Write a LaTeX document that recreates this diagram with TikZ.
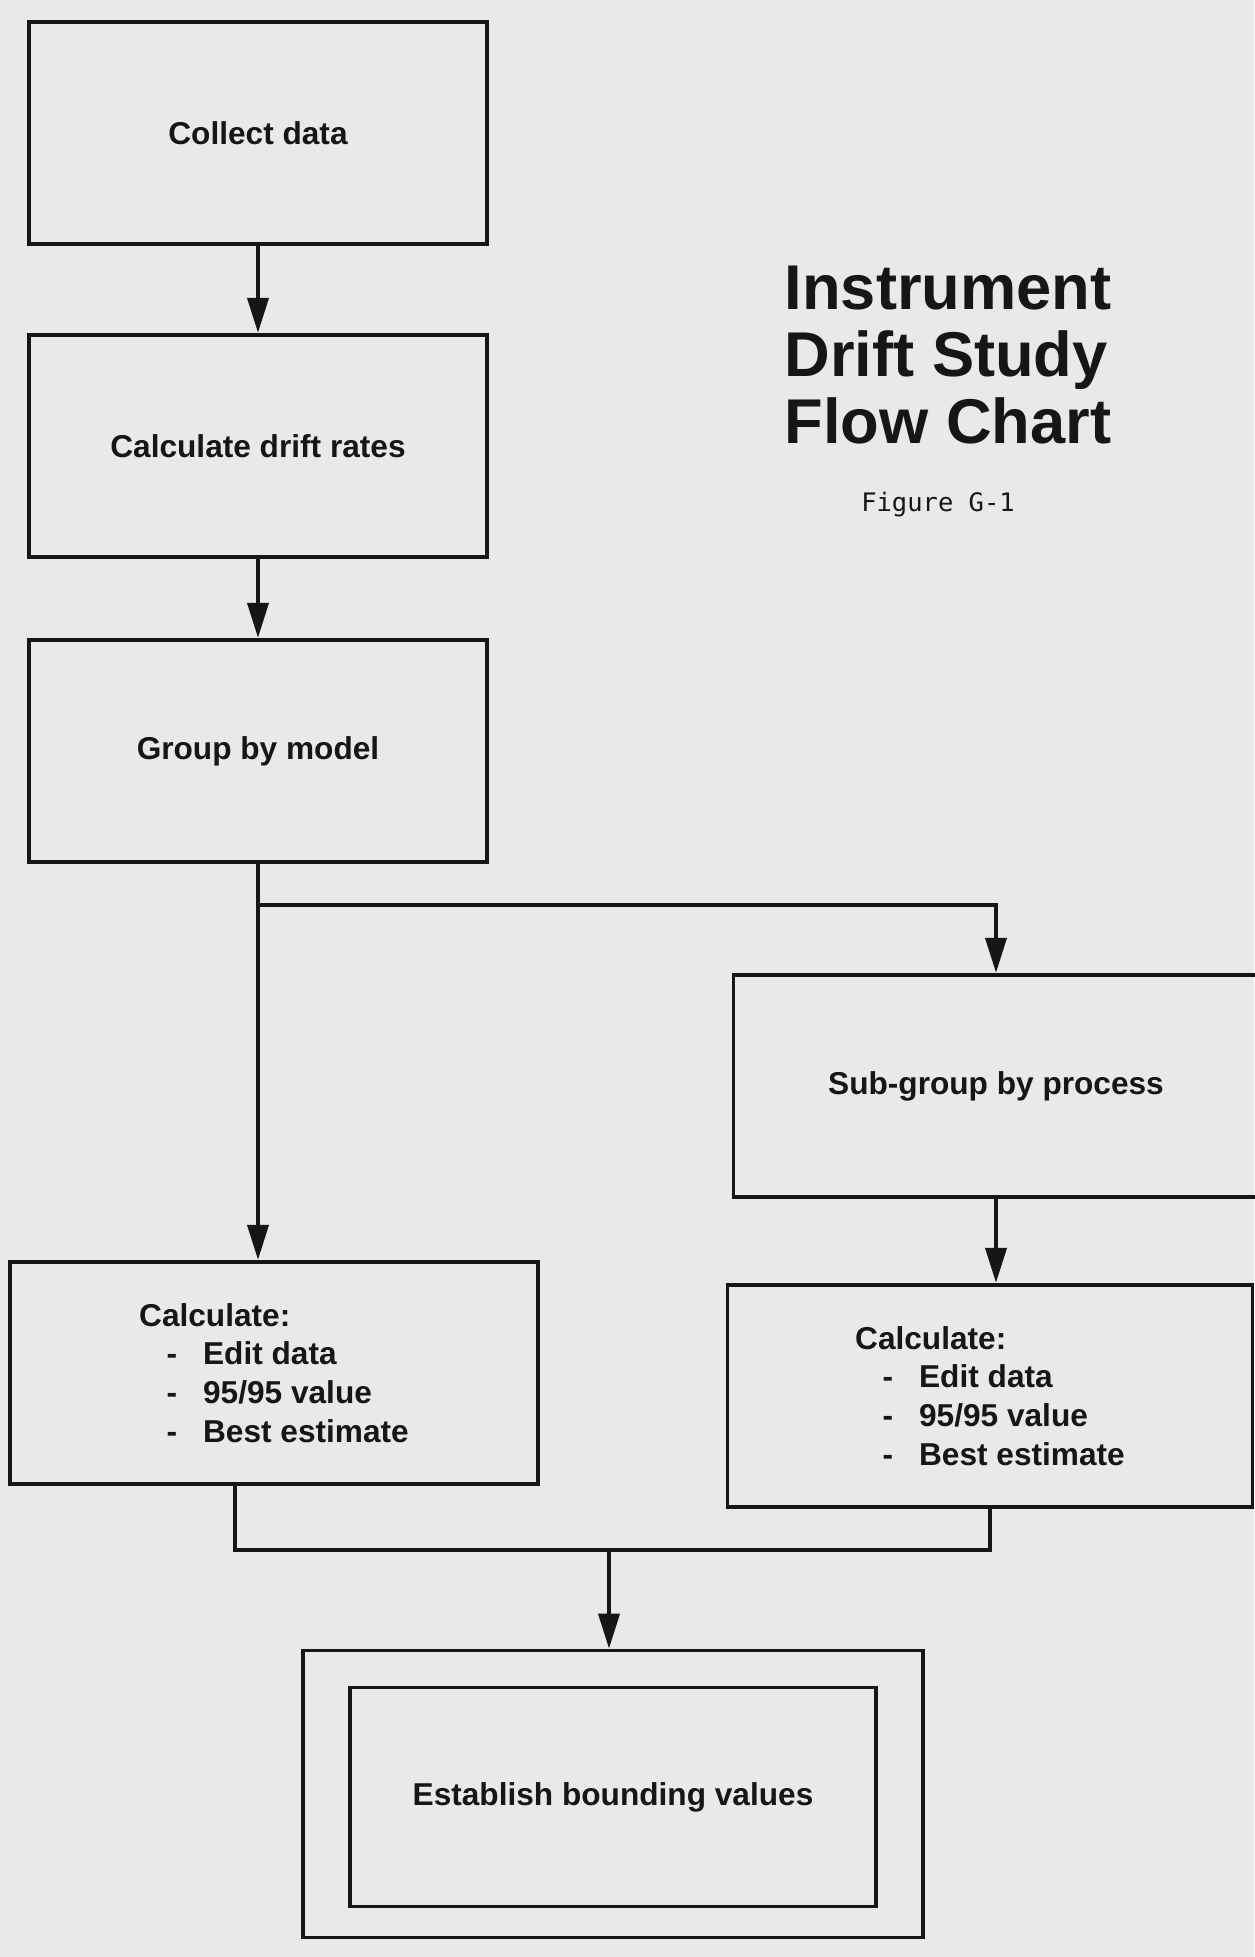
\documentclass[tikz,border=0pt]{standalone}
\usepackage{fontspec}
\setmainfont{Liberation Sans}
\newfontfamily\figfont{DejaVu Sans Mono}
\usetikzlibrary{arrows.meta,positioning,calc}

\definecolor{paper}{RGB}{233,233,231}
\definecolor{ink}{RGB}{22,22,22}

\newcommand{\calcitem}[1]{\makebox[1.28cm][l]{\hspace{0.55cm}-}#1}

\begin{document}
\begin{tikzpicture}[x=0.02cm,y=-0.02cm,
    box/.style={draw=ink,text=ink,line width=2.2pt,minimum height=4.45cm,
      font=\fontsize{18}{22}\selectfont\bfseries},
    arr/.style={draw=ink,line width=2.2pt,-{Triangle[length=0.7cm,width=0.42cm]}},
    link/.style={draw=ink,line width=2.2pt}]
  \fill[paper] (0,0) rectangle (1254,1957);
  \useasboundingbox (0,0) rectangle (1254,1957);

  % left column
  \node[box,minimum width=9.16cm] (collect) at (258,133) {Collect data};
  \node[box,minimum width=9.16cm] (drift) at (258,446) {Calculate drift rates};
  \node[box,minimum width=9.16cm] (group) at (258,751) {Group by model};
  \node[box,minimum width=10.56cm,align=left] (calcL) at (274,1373)
    {Calculate:\\ \calcitem{Edit data}\\ \calcitem{95/95 value}\\ \calcitem{Best estimate}};

  % right column
  \node[box,minimum width=10.5cm] (subgroup) at (996,1086) {Sub-group by process};
  \node[box,minimum width=10.5cm,align=left] (calcR) at (990,1396)
    {Calculate:\\ \calcitem{Edit data}\\ \calcitem{95/95 value}\\ \calcitem{Best estimate}};

  % final step
  \node[box,minimum width=12.4cm,minimum height=5.74cm] (outer) at (613,1794) {};
  \node[box,minimum width=10.52cm,minimum height=4.38cm] (bound) at (613,1797) {Establish bounding values};

  % title
  \node[text=ink,align=left,font=\fontsize{36}{38}\selectfont\bfseries] (title) at (948,355)
    {Instrument\\Drift Study\\Flow Chart};
  \node[text=ink,font=\figfont\fontsize{14.5}{17}\selectfont] (figlabel) at (938,505) {Figure G-1};

  % connectors
  \coordinate (split) at (258,905);
  \coordinate (joinL) at (235,1550);
  \coordinate (joinR) at (990,1550);
  \coordinate (merge) at (609,1550);
  \draw[arr] (collect) -- (drift);
  \draw[arr] (drift) -- (group);
  \draw[arr] (group.south) -- (group.south |- calcL.north);
  \draw[arr] (split) -| (subgroup.north);
  \draw[arr] (subgroup.south) -- (subgroup.south |- calcR.north);
  \draw[link] (joinL |- calcL.south) -- (joinL) -- (joinR) -- (joinR |- calcR.south);
  \draw[arr] (merge) -- (merge |- outer.north);
\end{tikzpicture}
\end{document}
